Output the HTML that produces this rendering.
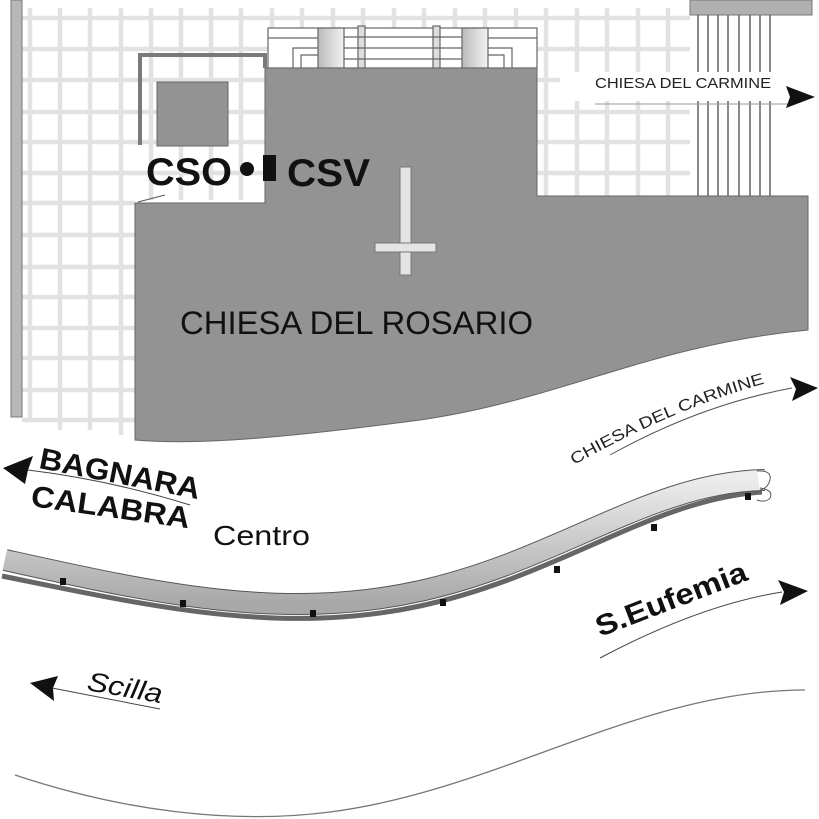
<!DOCTYPE html>
<html><head><meta charset="utf-8"><style>
html,body{margin:0;padding:0;background:#fff;}
svg{display:block;font-family:"Liberation Sans",Arial,sans-serif;}
</style></head><body>
<svg width="819" height="819" viewBox="0 0 819 819" xmlns="http://www.w3.org/2000/svg">
<defs>
<linearGradient id="road" x1="0" y1="0" x2="0" y2="1">
<stop offset="0" stop-color="#ececec"/><stop offset="1" stop-color="#a8a8a8"/>
</linearGradient>
<linearGradient id="colg" x1="0" y1="0" x2="1" y2="0">
<stop offset="0" stop-color="#bbb"/><stop offset="1" stop-color="#f2f2f2"/>
</linearGradient>
</defs>
<rect width="819" height="819" fill="#fff"/>
<!-- grid -->
<g stroke="#e2e2e2" stroke-width="4.5">
<line x1="30" y1="8" x2="30" y2="420"/><line x1="60" y1="8" x2="60" y2="430"/><line x1="90" y1="8" x2="90" y2="430"/><line x1="121" y1="8" x2="121" y2="435"/>
<line x1="151" y1="8" x2="151" y2="200"/><line x1="181" y1="8" x2="181" y2="200"/><line x1="211" y1="8" x2="211" y2="200"/><line x1="241" y1="8" x2="241" y2="200"/>
<line x1="272" y1="8" x2="272" y2="30"/><line x1="302" y1="8" x2="302" y2="30"/><line x1="333" y1="8" x2="333" y2="30"/><line x1="363" y1="8" x2="363" y2="30"/><line x1="394" y1="8" x2="394" y2="30"/><line x1="424" y1="8" x2="424" y2="30"/><line x1="455" y1="8" x2="455" y2="30"/><line x1="485" y1="8" x2="485" y2="30"/><line x1="516" y1="8" x2="516" y2="30"/>
<line x1="546" y1="8" x2="546" y2="196"/><line x1="577" y1="8" x2="577" y2="196"/><line x1="607" y1="8" x2="607" y2="196"/><line x1="638" y1="8" x2="638" y2="196"/><line x1="668" y1="8" x2="668" y2="196"/>
<line x1="22" y1="18" x2="690" y2="18"/><line x1="22" y1="49" x2="690" y2="49"/><line x1="22" y1="80" x2="690" y2="80"/><line x1="22" y1="112" x2="690" y2="112"/><line x1="22" y1="142" x2="690" y2="142"/><line x1="22" y1="173" x2="690" y2="173"/>
<line x1="22" y1="203" x2="135" y2="203"/><line x1="22" y1="235" x2="135" y2="235"/><line x1="22" y1="267" x2="135" y2="267"/><line x1="22" y1="297" x2="135" y2="297"/><line x1="22" y1="328" x2="135" y2="328"/><line x1="22" y1="358" x2="135" y2="358"/><line x1="22" y1="390" x2="135" y2="390"/><line x1="22" y1="420" x2="135" y2="420"/>
</g>
<rect x="11" y="0" width="11" height="417" fill="#b8b8b8" stroke="#777" stroke-width="1"/>
<!-- columns right -->
<rect x="690" y="0" width="122" height="15" fill="#b0b0b0" stroke="#777"/>
<g stroke="#6a6a6a" stroke-width="1.6">
<line x1="698" y1="15" x2="698" y2="196"/><line x1="708" y1="15" x2="708" y2="196"/><line x1="718" y1="15" x2="718" y2="196"/><line x1="728" y1="15" x2="728" y2="196"/><line x1="739" y1="15" x2="739" y2="196"/><line x1="750" y1="15" x2="750" y2="196"/><line x1="760" y1="15" x2="760" y2="196"/><line x1="770" y1="15" x2="770" y2="196"/>
</g>
<rect x="560" y="72" width="230" height="29" fill="#fff"/>
<text x="595" y="88" font-size="15" fill="#222" textLength="176" lengthAdjust="spacingAndGlyphs">CHIESA DEL CARMINE</text>
<line x1="595" y1="104" x2="795" y2="104" stroke="#999" stroke-width="1"/>
<polygon points="786,86 815,97 786,108 790,97" fill="#111"/>
<!-- top structure -->
<g stroke="#666" stroke-width="1.2" fill="#fff">
<rect x="268" y="28" width="269" height="40"/>
<line x1="268" y1="38" x2="318" y2="38"/><line x1="488" y1="38" x2="537" y2="38"/>
<path d="M293,68 V48 H318 M301,68 V55 H318 M512,68 V48 H488 M504,68 V55 H488" fill="none"/>
<rect x="318" y="28" width="26" height="40" fill="url(#colg)"/>
<rect x="462" y="28" width="26" height="40" fill="url(#colg)"/>
<rect x="358" y="26" width="7" height="42" fill="#ddd"/>
<rect x="433" y="26" width="7" height="42" fill="#ddd"/>
<line x1="344" y1="37" x2="462" y2="37"/><line x1="344" y1="48" x2="462" y2="48"/><line x1="344" y1="59" x2="462" y2="59"/>
</g>
<!-- church -->
<path d="M135,203 H265 V68 H537 V196 H808 V330 C650,345 560,400 420,420 C300,436 200,446 135,440 Z" fill="#939393" stroke="#666" stroke-width="1"/>
<path d="M140,145 V55 H265 V68" fill="none" stroke="#7a7a7a" stroke-width="4"/>
<rect x="157" y="82" width="71" height="64" fill="#939393" stroke="#666"/>
<line x1="138" y1="202" x2="165" y2="195" stroke="#555" stroke-width="1"/>
<rect x="400" y="167" width="11" height="108" fill="#e4e4e4" stroke="#777"/>
<rect x="375" y="243" width="61" height="9" fill="#e4e4e4" stroke="#777"/>
<text x="146" y="185" font-size="39" font-weight="bold" fill="#111" textLength="86" lengthAdjust="spacingAndGlyphs">CSO</text>
<circle cx="247" cy="169" r="7" fill="#111"/>
<rect x="263" y="155" width="13" height="26" fill="#111"/>
<text x="287" y="186" font-size="39" font-weight="bold" fill="#111" textLength="83" lengthAdjust="spacingAndGlyphs">CSV</text>
<text x="180" y="334" font-size="32" fill="#111" textLength="353" lengthAdjust="spacingAndGlyphs">CHIESA DEL ROSARIO</text>
<!-- curved carmine -->
<path id="cp" d="M574,465 Q680,405 778,380" fill="none"/>
<text font-size="16" fill="#222"><textPath href="#cp" textLength="208" lengthAdjust="spacingAndGlyphs">CHIESA DEL CARMINE</textPath></text>
<path d="M610,455 Q700,405 792,388" fill="none" stroke="#555" stroke-width="1"/>
<polygon points="790,377 818,388 792,401 796,389" fill="#111"/>
<!-- Bagnara -->
<polygon points="3,468 33,456 28,470 25,484" fill="#111"/>
<path d="M28,470 Q110,480 190,505" fill="none" stroke="#444" stroke-width="1"/>
<text transform="translate(38,468) rotate(11)" font-size="30" font-weight="bold" fill="#111" textLength="163" lengthAdjust="spacingAndGlyphs">BAGNARA</text>
<text transform="translate(30,506) rotate(8)" font-size="30" font-weight="bold" fill="#111" textLength="160" lengthAdjust="spacingAndGlyphs">CALABRA</text>
<text x="213" y="545" font-size="28" fill="#111" textLength="97" lengthAdjust="spacingAndGlyphs">Centro</text>
<!-- road -->
<path d="M2,576 C150,606 280,636 420,606 S650,500 762,492" fill="none" stroke="#666" stroke-width="5"/>
<path d="M5,560 C150,592 280,622 420,591 S650,482 765,480" fill="none" stroke="#555" stroke-width="22"/>
<path d="M5,560 C150,592 280,622 420,591 S650,482 765,480" fill="none" stroke="url(#road)" stroke-width="20"/>
<path d="M757,471 Q772,470 770,480 Q768,488 760,490" fill="#fff" stroke="#555" stroke-width="1"/>
<path d="M760,488 Q774,490 770,498 Q766,503 757,500" fill="none" stroke="#555" stroke-width="1"/>
<g fill="#111">
<rect x="60" y="578" width="6" height="7"/><rect x="180" y="600" width="6" height="7"/><rect x="310" y="610" width="6" height="7"/><rect x="440" y="599" width="6" height="7"/><rect x="554" y="566" width="6" height="7"/><rect x="651" y="524" width="6" height="7"/><rect x="745" y="493" width="6" height="7"/>
</g>
<!-- S.Eufemia -->
<text transform="translate(600,637) rotate(-21)" font-size="29" font-weight="bold" fill="#111" textLength="160" lengthAdjust="spacingAndGlyphs">S.Eufemia</text>
<path d="M600,658 Q700,605 782,592" fill="none" stroke="#444" stroke-width="1"/>
<polygon points="778,580 808,591 780,605 784,592" fill="#111"/>
<!-- Scilla -->
<polygon points="30,683 58,676 53,688 54,701" fill="#111"/>
<line x1="52" y1="688" x2="160" y2="709" stroke="#444" stroke-width="1"/>
<text transform="translate(86,690) rotate(10)" font-size="27" font-style="italic" fill="#111" textLength="76" lengthAdjust="spacingAndGlyphs">Scilla</text>
<path d="M15,775 C120,810 230,825 330,812 C500,790 640,690 805,690" fill="none" stroke="#777" stroke-width="1.3"/>
</svg>
</body></html>
